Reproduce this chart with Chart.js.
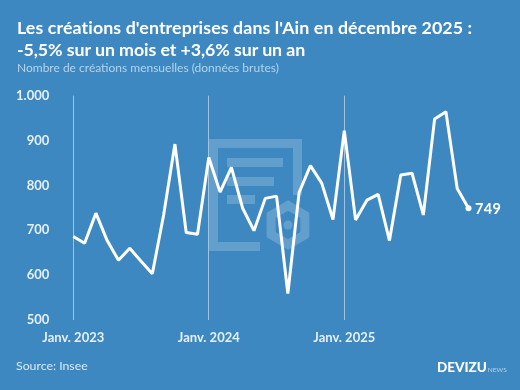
<!DOCTYPE html>
<html lang="fr">
<head>
<meta charset="utf-8">
<title>Créations d'entreprises dans l'Ain</title>
<script src="https://cdn.jsdelivr.net/npm/chart.js@4/dist/chart.umd.min.js"></script>
<style>
  html, body { margin: 0; padding: 0; }
  body { width: 520px; height: 390px; background: #3d88c0; overflow: hidden; position: relative; font-family: Lato, sans-serif; }
  #chart { position: absolute; left: 0; top: 0; }
  .txt { position: absolute; white-space: nowrap; }
  #title { left: 17px; top: 16px; color: #fff; font-weight: 700; font-size: 17.8px; line-height: 22px; }
  #title .l1 { letter-spacing: 0.1px; }
  #title .l2 { letter-spacing: -0.08px; }
  #subtitle { left: 17px; top: 60px; color: #b5d3ea; font-size: 12px; line-height: 16px; }
  #source { left: 16px; top: 358px; color: #dbeaf5; font-size: 12.3px; line-height: 16px; }
  #brand { left: 437px; top: 359px; color: #fff; font-weight: 900; font-size: 13.5px; line-height: 16px; }
  #brand span { color: #b5d3ea; font-weight: 400; font-size: 6.5px; margin-left: 1px; }
</style>
</head>
<body>
<canvas id="chart" width="520" height="390"></canvas>
<div class="txt" id="title"><span class="l1">Les créations d'entreprises dans l'Ain en décembre 2025 :</span><br><span class="l2">-5,5% sur un mois et +3,6% sur un an</span></div>
<div class="txt" id="subtitle">Nombre de créations mensuelles (données brutes)</div>
<div class="txt" id="source">Source: Insee</div>
<div class="txt" id="brand">DEVIZU<span>NEWS</span></div>
<script>
// Monthly values, Jan 2023 to Dec 2025
const months = [
    'Janv. 2023', 'Fév. 2023', 'Mars 2023', 'Avr. 2023', 'Mai 2023', 'Juin 2023', 'Juil. 2023', 'Août 2023', 'Sept. 2023', 'Oct. 2023', 'Nov. 2023', 'Déc. 2023',
    'Janv. 2024', 'Fév. 2024', 'Mars 2024', 'Avr. 2024', 'Mai 2024', 'Juin 2024', 'Juil. 2024', 'Août 2024', 'Sept. 2024', 'Oct. 2024', 'Nov. 2024', 'Déc. 2024',
    'Janv. 2025', 'Fév. 2025', 'Mars 2025', 'Avr. 2025', 'Mai 2025', 'Juin 2025', 'Juil. 2025', 'Août 2025', 'Sept. 2025', 'Oct. 2025', 'Nov. 2025', 'Déc. 2025'
];
const creations = [
    686, 671, 738, 677, 633, 660, 631, 603, 734, 892, 695, 691,
    862, 785, 840, 749, 699, 771, 776, 559, 784, 844, 805, 724,
    922, 723, 767, 780, 677, 823, 827, 734, 948, 964, 793, 749
];
const yearTicks = ['Janv. 2023', 'Janv. 2024', 'Janv. 2025'];
const yTickLabels = { 500: '500', 600: '600', 700: '700', 800: '800', 900: '900', 1000: '1.000' };

// Faint logo behind the line
const watermark = {
    id: 'watermark',
    beforeDatasetsDraw(chart) {
        const c = chart.ctx;
        c.save();
        c.fillStyle = c.strokeStyle = 'rgba(255,255,255,0.2)';
        c.lineWidth = 9;
        c.lineJoin = 'miter';
        c.beginPath();
        c.moveTo(297.5, 195);
        c.lineTo(297.5, 143.5);
        c.lineTo(213.5, 143.5);
        c.lineTo(213.5, 246.5);
        c.lineTo(260, 246.5);
        c.stroke();
        c.fillRect(227, 158, 56, 9);
        c.fillRect(227, 177, 47, 9);
        c.fillRect(227, 195, 28, 9);
        c.beginPath();
        for (let i = 0; i < 6; i++) {
            const a = Math.PI / 6 + i * Math.PI / 3;
            c.lineTo(288 + 19.5 * Math.cos(a), 225 + 19.5 * Math.sin(a));
        }
        c.closePath();
        c.stroke();
        c.beginPath();
        c.arc(288, 225, 4.5, 0, Math.PI * 2);
        c.fill();
        c.restore();
    }
};

// Value next to the last point
const lastLabel = {
    id: 'lastLabel',
    afterDatasetsDraw(chart) {
        const last = creations.length - 1;
        const x = chart.scales.x.getPixelForValue(last);
        const y = chart.scales.y.getPixelForValue(creations[last]);
        const c = chart.ctx;
        c.save();
        c.fillStyle = '#fff';
        c.font = '700 14.5px Lato';
        c.letterSpacing = '0.4px';
        c.textBaseline = 'middle';
        c.fillText(String(creations[last]), x + 6.5, y + 1);
        c.restore();
    }
};

new Chart(document.getElementById('chart').getContext('2d'), {
    type: 'line',
    data: {
        labels: months,
        datasets: [{
            data: creations,
            borderColor: '#fff',
            backgroundColor: '#fff',
            borderWidth: 3,
            borderJoinStyle: 'bevel',
            tension: 0,
            pointBorderWidth: 0,
            pointRadius: ctx => ctx.dataIndex === creations.length - 1 ? 3 : 0
        }]
    },
    options: {
        responsive: false,
        animation: false,
        layout: { padding: { left: 0, right: 51.5, top: 95.6, bottom: 0 } },
        plugins: { legend: { display: false }, tooltip: { enabled: false } },
        scales: {
            x: {
                offset: false,
                afterFit: s => { s.height = 70; },
                border: { display: false },
                grid: {
                    drawTicks: false,
                    color: ctx => ctx.tick && yearTicks.includes(months[ctx.tick.value]) ? 'rgba(255,255,255,0.5)' : 'transparent',
                    lineWidth: 1
                },
                ticks: {
                    autoSkip: false,
                    maxRotation: 0,
                    padding: 10,
                    color: '#e6f0f8',
                    font: { family: 'Lato', weight: '700', size: 13 },
                    callback: (v, i) => yearTicks.includes(months[i]) ? months[i] : ''
                }
            },
            y: {
                min: 500,
                max: 1000,
                afterFit: s => { s.width = 73.3; },
                border: { display: false },
                grid: { display: false, drawTicks: false },
                ticks: {
                    stepSize: 100,
                    padding: 24,
                    color: '#e6f0f8',
                    font: { family: 'Lato', weight: '700', size: 13 },
                    callback: v => yTickLabels[v]
                }
            }
        }
    },
    plugins: [watermark, lastLabel]
});
</script>
</body>
</html>
